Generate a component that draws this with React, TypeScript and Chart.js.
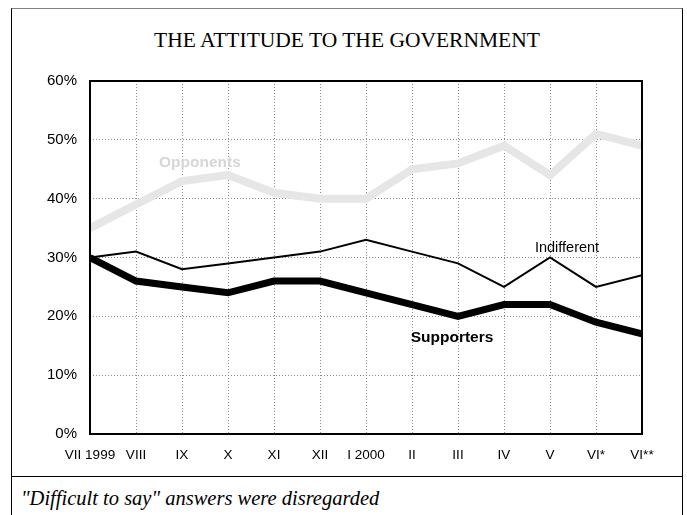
import React, { useEffect, useRef } from "react";
import { Chart, registerables } from "chart.js";

Chart.register(...registerables);

const categories = ["VII 1999", "VIII", "IX", "X", "XI", "XII", "I 2000", "II", "III", "IV", "V", "VI*", "VI**"];
const opponents = [35, 39, 43, 44, 41, 40, 40, 45, 46, 49, 44, 51, 49];
const indifferent = [30, 31, 28, 29, 30, 31, 33, 31, 29, 25, 30, 25, 27];
const supporters = [30, 26, 25, 24, 26, 26, 24, 22, 20, 22, 22, 19, 17];
const yTicks = [0, 10, 20, 30, 40, 50, 60];

const seriesLabels = [
  { text: "Opponents", x: 2.39, y: 46.1, color: "#d6d6d6", bold: true, size: 15.5 },
  { text: "Indifferent", x: 10.37, y: 31.6, color: "#000000", bold: false, size: 14.5 },
  { text: "Supporters", x: 7.87, y: 16.3, color: "#000000", bold: true, size: 15.5 },
];

const SANS = "'Liberation Sans', Arial, Helvetica, sans-serif";
const SERIF = "'Liberation Serif', 'Times New Roman', serif";

const framePlugin = {
  id: "frameAndLabels",
  afterDatasetsDraw(chart: any) {
    const { ctx, chartArea, scales } = chart;
    ctx.save();
    ctx.strokeStyle = "#000";
    ctx.lineWidth = 2;
    ctx.strokeRect(chartArea.left, chartArea.top, chartArea.right - chartArea.left, chartArea.bottom - chartArea.top);
    for (const l of seriesLabels) {
      ctx.font = `${l.bold ? "bold " : ""}${l.size}px ${SANS}`;
      ctx.fillStyle = l.color;
      ctx.textAlign = "center";
      ctx.textBaseline = "middle";
      ctx.fillText(l.text, scales.x.getPixelForValue(l.x), scales.y.getPixelForValue(l.y));
    }
    ctx.restore();
  },
};

export default function App() {
  const ref = useRef<HTMLCanvasElement>(null);
  useEffect(() => {
    if (!ref.current) return;
    const chart = new Chart(ref.current, {
      type: "line",
      data: {
        labels: categories,
        datasets: [
          { label: "Supporters", data: supporters, borderColor: "#000", borderWidth: 7, pointRadius: 0, tension: 0, clip: 0, borderJoinStyle: "miter" },
          { label: "Indifferent", data: indifferent, borderColor: "#000", borderWidth: 2, pointRadius: 0, tension: 0, clip: 0, borderJoinStyle: "miter" },
          { label: "Opponents", data: opponents, borderColor: "#e6e6e6", borderWidth: 8, pointRadius: 0, tension: 0, clip: 0, borderJoinStyle: "miter" },
        ],
      } as any,
      options: {
        animation: false,
        responsive: false,
        layout: { padding: { top: 81, right: 45, left: 0, bottom: 0 } },
        plugins: { legend: { display: false }, tooltip: { enabled: false }, title: { display: false } },
        scales: {
          x: {
            type: "category",
            offset: false,
            border: { display: false, dash: [1, 2] },
            grid: { color: "#8a8a8a", lineWidth: 1, drawTicks: false },
            ticks: { color: "#000", font: { family: SANS, size: 13.5 }, padding: 13, maxRotation: 0, autoSkip: false },
            afterFit: (s: any) => { s.height = 36; },
          },
          y: {
            min: 0,
            max: 60,
            border: { display: false, dash: [1, 2] },
            grid: { color: "#8a8a8a", lineWidth: 1, drawTicks: false },
            ticks: { color: "#000", font: { family: SANS, size: 15 }, padding: 13, stepSize: 10, callback: (v: any) => (yTicks.includes(v) ? v + "%" : "") },
            afterFit: (s: any) => { s.width = 90; },
          },
        },
      } as any,
      plugins: [framePlugin],
    });
    return () => chart.destroy();
  }, []);

  return (
    <div>
      <div style={{ position: "absolute", left: 11, top: 8, width: 672, height: 507, boxSizing: "border-box", borderLeft: "1px solid #000", borderRight: "1px solid #000", borderTop: "1px solid #808080", overflow: "hidden" }} />
      <div style={{ position: "absolute", left: 11, top: 476, width: 672, height: 1, background: "#000" }} />
      <div style={{ position: "absolute", left: 11, top: 28, width: 672, textAlign: "center", fontFamily: SERIF, fontSize: 21.5, lineHeight: "24px", color: "#000" }}>
        THE ATTITUDE TO THE GOVERNMENT
      </div>
      <canvas ref={ref} width={687} height={470} style={{ position: "absolute", left: 0, top: 0, width: 687, height: 470 }} />
      <div style={{ position: "absolute", left: 21, top: 486, fontFamily: SERIF, fontStyle: "italic", fontSize: 20.5, lineHeight: "24px", color: "#000", whiteSpace: "nowrap" }}>
        "Difficult to say" answers were disregarded
      </div>
    </div>
  );
}
